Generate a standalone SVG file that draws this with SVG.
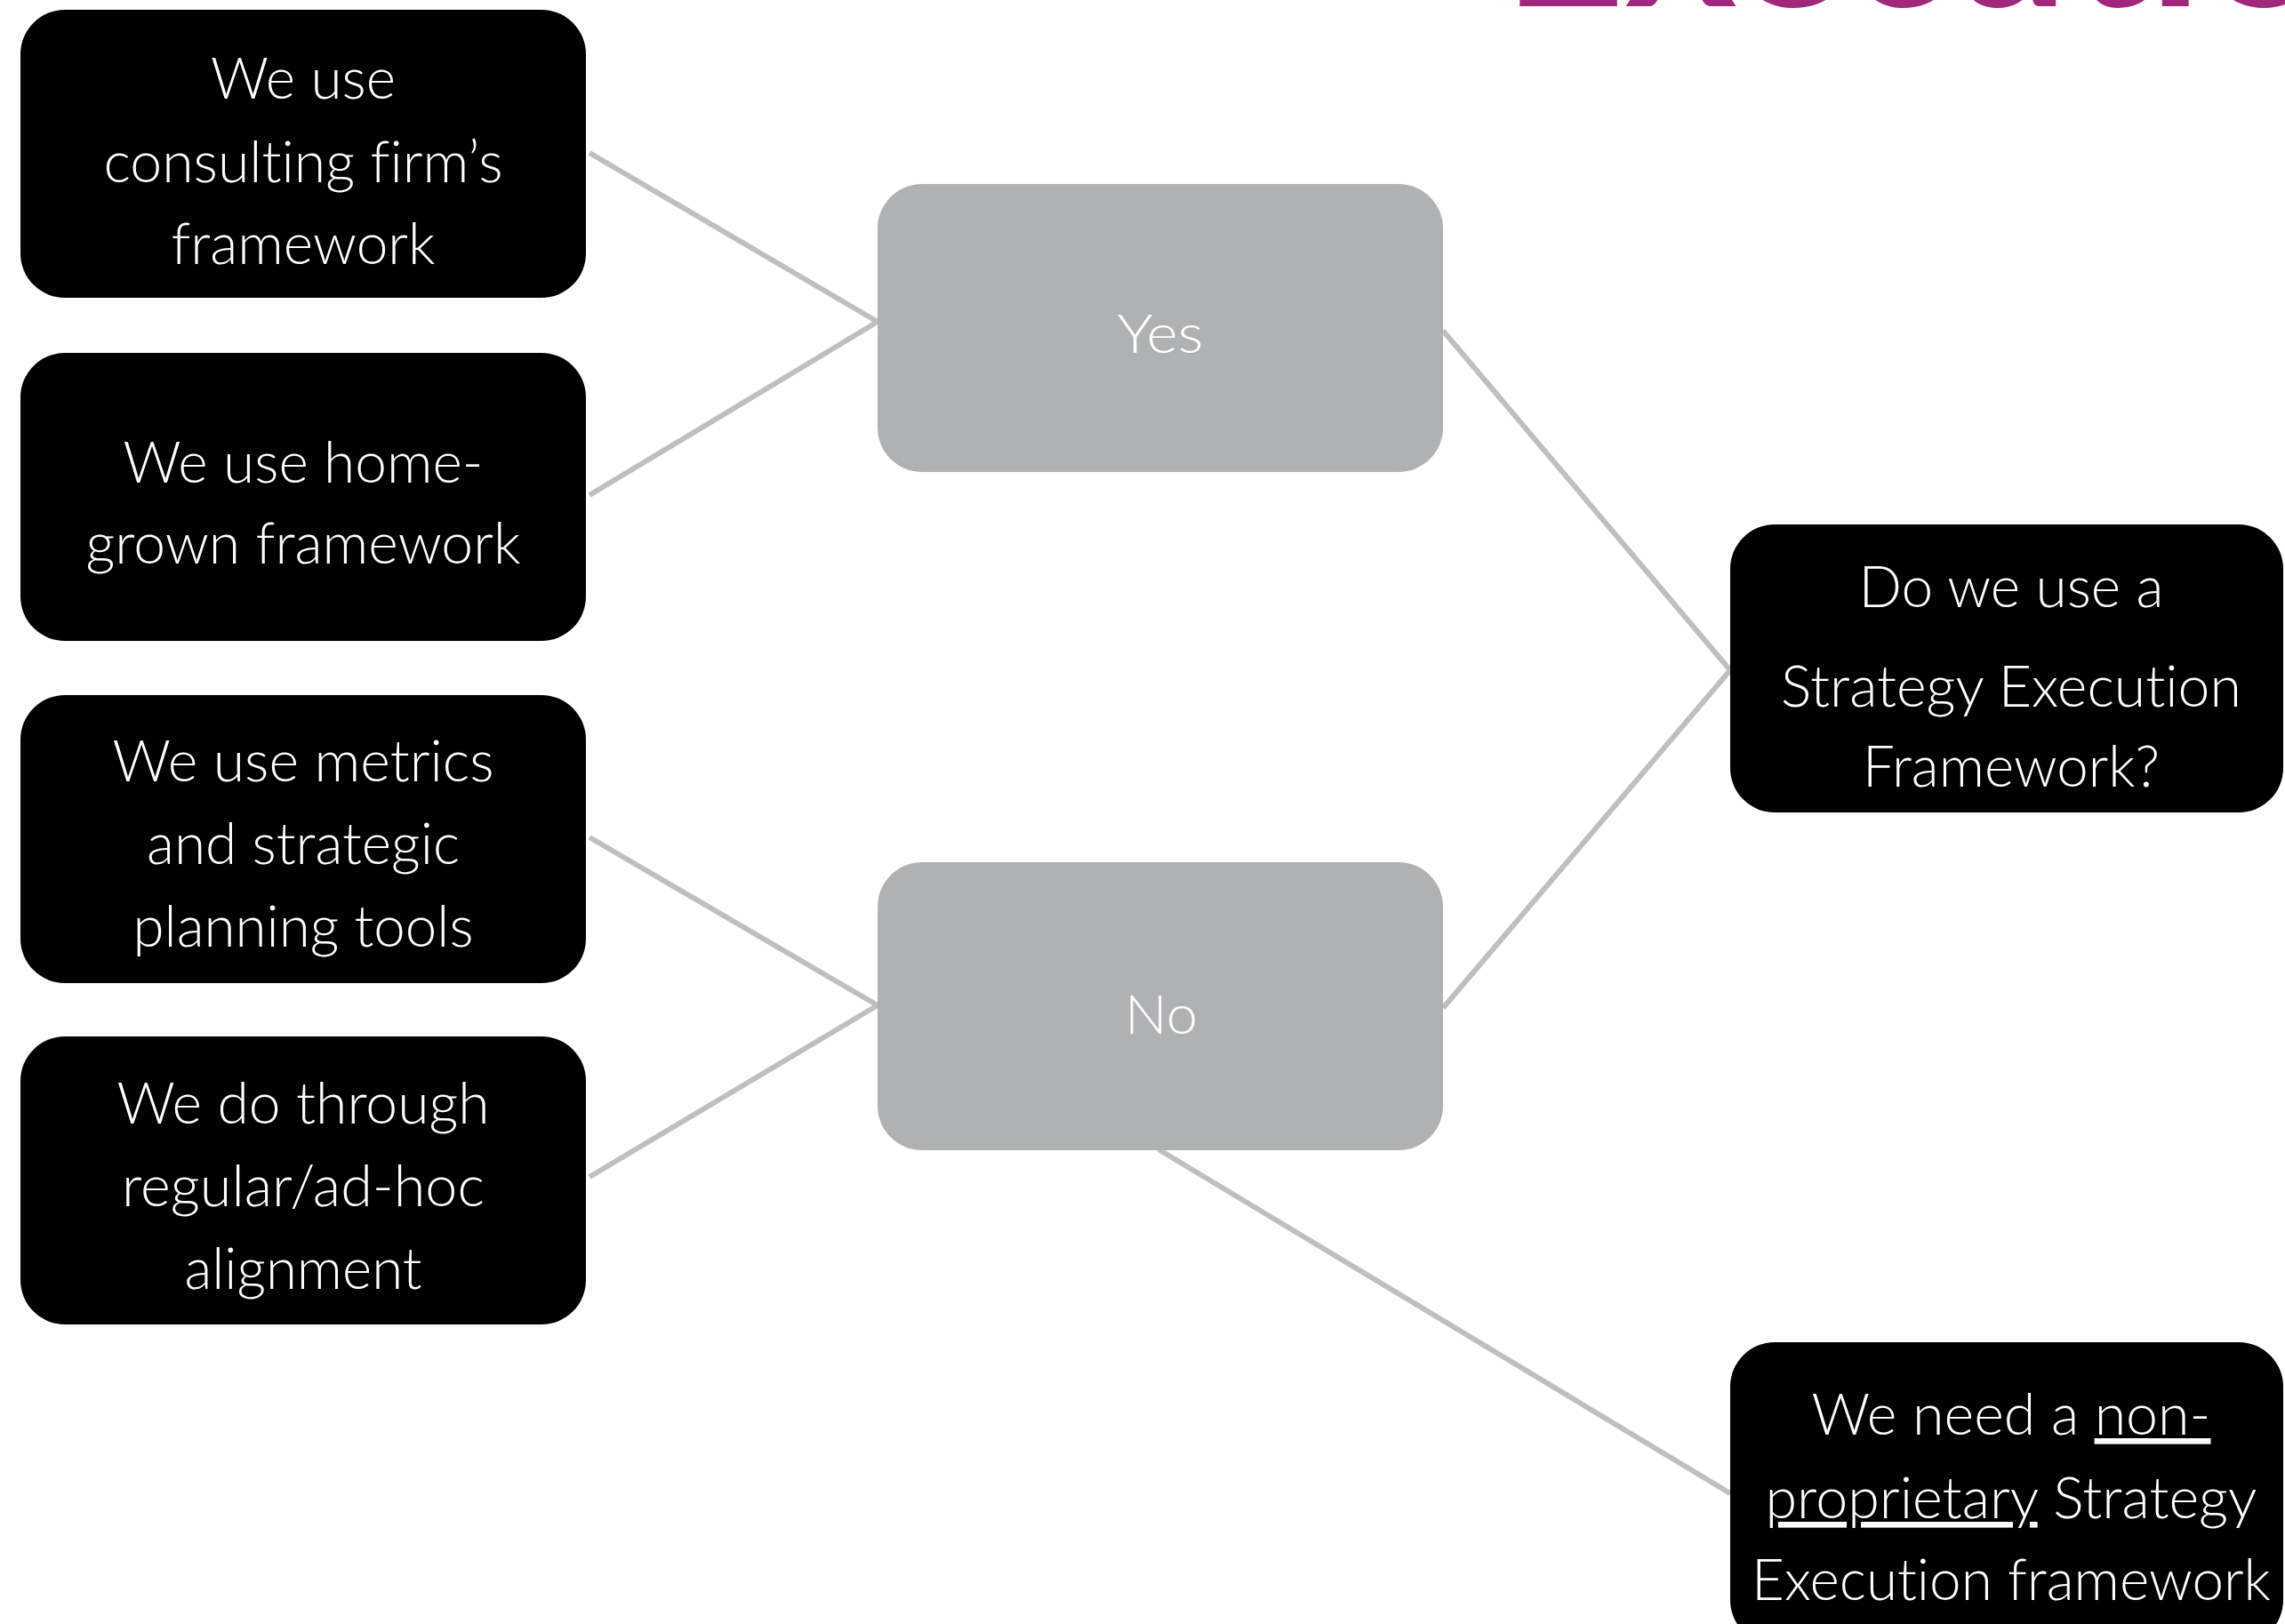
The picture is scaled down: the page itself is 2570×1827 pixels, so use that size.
<svg xmlns="http://www.w3.org/2000/svg" width="2570" height="1827" viewBox="0 0 2570 1827">
  <style>
    .dark { fill: #000000; }
    .grey { fill: #b0b1b3; }
    .lbl { fill: #ffffff; font-family: Lato, "Open Sans", "Liberation Sans", sans-serif; font-weight: 300; font-size: 66px; text-anchor: middle; font-variant-ligatures: none; font-feature-settings: "liga" 0; }
    .ans { font-size: 62px; }
    .ul { text-decoration: underline; text-decoration-skip-ink: none; text-decoration-thickness: 3px; }
    .link { stroke: #bfbfbf; stroke-width: 6; fill: none; }
    .title { fill: #a1277c; font-family: Lato, "Liberation Sans", sans-serif; font-weight: 700; font-size: 240px; font-variant-ligatures: none; }
  </style>

  <rect width="2570" height="1827" fill="#ffffff"/>

  <!-- heading, mostly above the visible area -->
  <text class="title" x="1690" y="7">Execution</text>

  <!-- connectors -->
  <g id="connectors">
    <line class="link" x1="663" y1="172" x2="987" y2="362"/>
    <line class="link" x1="663" y1="557" x2="987" y2="362"/>
    <line class="link" x1="1623" y1="372" x2="1946" y2="754"/>
    <line class="link" x1="1623" y1="1134" x2="1946" y2="754"/>
    <line class="link" x1="663" y1="942" x2="987" y2="1131"/>
    <line class="link" x1="663" y1="1324" x2="987" y2="1131"/>
    <line class="link" x1="1303" y1="1293" x2="1946" y2="1680"/>
  </g>

  <g id="consulting">
    <rect class="dark" x="23" y="11" width="636" height="324" rx="50" ry="50"/>
    <text class="lbl" x="341" y="111" textLength="208" lengthAdjust="spacingAndGlyphs">We use</text>
    <text class="lbl" x="341" y="205" textLength="449" lengthAdjust="spacingAndGlyphs">consulting firm’s</text>
    <text class="lbl" x="341" y="297" textLength="297" lengthAdjust="spacingAndGlyphs">framework</text>
  </g>

  <g id="home-grown">
    <rect class="dark" x="23" y="397" width="636" height="324" rx="50" ry="50"/>
    <text class="lbl" x="341" y="543" textLength="405" lengthAdjust="spacingAndGlyphs">We use home-</text>
    <text class="lbl" x="341" y="634" textLength="489" lengthAdjust="spacingAndGlyphs">grown framework</text>
  </g>

  <g id="metrics">
    <rect class="dark" x="23" y="782" width="636" height="324" rx="50" ry="50"/>
    <text class="lbl" x="341" y="879" textLength="429" lengthAdjust="spacingAndGlyphs">We use metrics</text>
    <text class="lbl" x="341" y="972" textLength="352" lengthAdjust="spacingAndGlyphs">and strategic</text>
    <text class="lbl" x="341" y="1065" textLength="383" lengthAdjust="spacingAndGlyphs">planning tools</text>
  </g>

  <g id="alignment">
    <rect class="dark" x="23" y="1166" width="636" height="324" rx="50" ry="50"/>
    <text class="lbl" x="341" y="1264" textLength="419" lengthAdjust="spacingAndGlyphs">We do through</text>
    <text class="lbl" x="341" y="1357" textLength="408" lengthAdjust="spacingAndGlyphs">regular/ad-hoc</text>
    <text class="lbl" x="341" y="1450" textLength="267" lengthAdjust="spacingAndGlyphs">alignment</text>
  </g>

  <g id="yes">
    <rect class="grey" x="987" y="207" width="636" height="324" rx="50" ry="50"/>
    <text class="lbl ans" x="1305" y="397" textLength="97" lengthAdjust="spacingAndGlyphs">Yes</text>
  </g>

  <g id="no">
    <rect class="grey" x="987" y="970" width="636" height="324" rx="50" ry="50"/>
    <text class="lbl ans" x="1306" y="1163" textLength="82" lengthAdjust="spacingAndGlyphs">No</text>
  </g>

  <g id="question">
    <rect class="dark" x="1946" y="590" width="622" height="324" rx="50" ry="50"/>
    <text class="lbl" x="2262" y="683" textLength="343" lengthAdjust="spacingAndGlyphs">Do we use a</text>
    <text class="lbl" x="2262" y="795" textLength="518" lengthAdjust="spacingAndGlyphs">Strategy Execution</text>
    <text class="lbl" x="2262" y="885" textLength="334" lengthAdjust="spacingAndGlyphs">Framework?</text>
  </g>

  <g id="need-framework">
    <rect class="dark" x="1946" y="1510" width="622" height="340" rx="50" ry="50"/>
    <text class="lbl" x="2262" y="1614" textLength="449" lengthAdjust="spacingAndGlyphs">We need a <tspan class="ul">non-</tspan></text>
    <text class="lbl" x="2262" y="1708" textLength="553" lengthAdjust="spacingAndGlyphs"><tspan class="ul">proprietary</tspan> Strategy</text>
    <text class="lbl" x="2262" y="1800" textLength="584" lengthAdjust="spacingAndGlyphs">Execution framework</text>
  </g>
</svg>
